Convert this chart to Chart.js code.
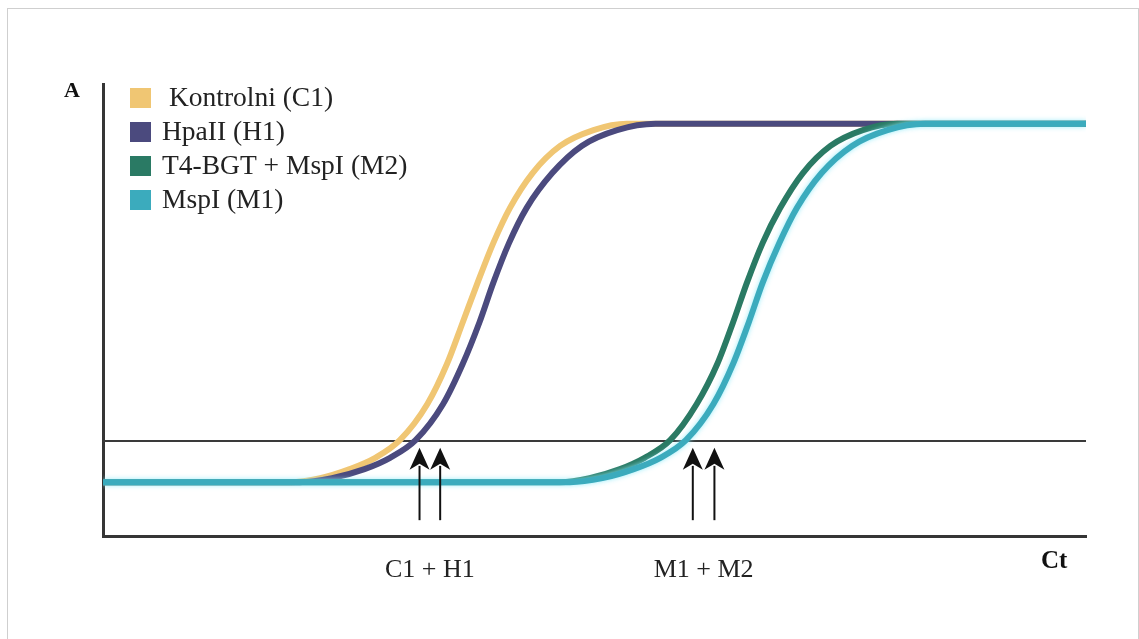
<!DOCTYPE html>
<html>
<head>
<meta charset="utf-8">
<title>qPCR krivulje</title>
<script src="https://cdn.jsdelivr.net/npm/chart.js@4"></script>
<style>
    body { margin: 0; background: #ffffff; }
    #frame { position: absolute; left: 7px; top: 8px; width: 1130px; height: 640px; border: 1px solid #cfcfcf; }
    #wrap { position: absolute; left: 0; top: 0; width: 1139px; height: 639px; }
</style>
</head>
<body>
<div id="frame"></div>
<div id="wrap"><canvas id="qpcrChart"></canvas></div>
<script>
// Ct values (x) and signal A (y), 0-100 on both axes
const ctC1 = [0, 19.0, 22.1, 25.1, 27.7, 30.2, 33.0, 35.0, 36.6, 38.1, 39.7, 41.4, 43.7, 46.5, 49.9, 53.3, 100];
const aC1 = [11.9, 11.9, 12.8, 14.8, 17.3, 21.2, 29.2, 38.1, 47.3, 56.0, 64.8, 72.6, 80.3, 86.3, 89.8, 91.2, 91.2];

const ctH1 = [0, 20.0, 23.3, 26.6, 29.2, 31.8, 34.6, 36.6, 38.3, 39.7, 41.3, 43.1, 45.7, 48.7, 52.3, 56.2, 100];
const aH1 = [11.9, 11.9, 12.8, 14.8, 17.3, 21.2, 29.2, 38.1, 47.3, 56.0, 64.8, 72.6, 80.3, 86.3, 89.8, 91.2, 91.2];

const ctM2 = [0, 46.5, 49.5, 52.6, 55.1, 57.7, 60.4, 62.5, 64.1, 65.5, 67.1, 68.9, 71.2, 74.0, 77.3, 80.8, 100];
const aM2 = [11.9, 11.9, 12.8, 14.8, 17.3, 21.2, 29.2, 38.1, 47.3, 56.0, 64.8, 72.6, 80.3, 86.3, 89.8, 91.2, 91.2];

const ctM1 = [0, 47.5, 50.8, 54.0, 56.7, 59.3, 62.1, 64.1, 65.7, 67.1, 68.8, 70.6, 73.1, 76.2, 79.8, 83.6, 100];
const aM1 = [11.9, 11.9, 12.8, 14.8, 17.3, 21.2, 29.2, 38.1, 47.3, 56.0, 64.8, 72.6, 80.3, 86.3, 89.8, 91.2, 91.2];

// threshold line
const thresholdCt = [0, 100];
const thresholdA = [21.0, 21.0];

// arrows marking the Ct of each sample, grouped in pairs
const arrowCt = [32.2, 34.3, 60.0, 62.2];
const arrowTopA = 19.5;
const arrowBottomA = 3.5;
const pairLabels = ['C1 + H1', 'M1 + M2'];

const seriesLabels = [' Kontrolni (C1)', 'HpaII (H1)', 'T4-BGT + MspI (M2)', 'MspI (M1)'];
const seriesColors = ['#f0c673', '#4b4a7e', '#2a7a64', '#3babbd'];

const serifFont = '"Liberation Serif", "Times New Roman", serif';

function toPoints(xs, ys) {
    return xs.map((x, i) => ({ x: x, y: ys[i] }));
}

function drawArrow(ctx, x, yTop, yBottom) {
    const headH = 22;
    const headW = 20;
    ctx.beginPath();
    ctx.moveTo(x, yBottom);
    ctx.lineTo(x, yTop + headH - 4);
    ctx.stroke();
    ctx.beginPath();
    ctx.moveTo(x, yTop);
    ctx.lineTo(x - headW / 2, yTop + headH);
    ctx.lineTo(x, yTop + headH - 6);
    ctx.lineTo(x + headW / 2, yTop + headH);
    ctx.closePath();
    ctx.fill();
}

const qpcrPlugin = {
    id: 'qpcrAnnotations',
    beforeDatasetDraw(chart, args) {
        if (args.index === 3) { // soft glow on the MspI curve
            chart.ctx.save();
            chart.ctx.shadowColor = 'rgba(140, 235, 250, 0.9)';
            chart.ctx.shadowBlur = 5;
        }
    },
    afterDatasetDraw(chart, args) {
        if (args.index === 3) {
            chart.ctx.restore();
        }
    },
    afterDraw(chart) {
        const ctx = chart.ctx;
        const area = chart.chartArea;
        const xScale = chart.scales.x;
        const yScale = chart.scales.y;

        ctx.save();

        // arrows
        ctx.strokeStyle = '#111111';
        ctx.fillStyle = '#111111';
        ctx.lineWidth = 2;
        arrowCt.forEach(ct => {
            drawArrow(ctx, xScale.getPixelForValue(ct), yScale.getPixelForValue(arrowTopA), yScale.getPixelForValue(arrowBottomA));
        });

        // pair labels under the x axis
        ctx.font = '26px ' + serifFont;
        ctx.fillStyle = '#222222';
        ctx.textAlign = 'center';
        ctx.textBaseline = 'alphabetic';
        pairLabels.forEach((label, i) => {
            const mid = (arrowCt[i * 2] + arrowCt[i * 2 + 1]) / 2;
            ctx.fillText(label, xScale.getPixelForValue(mid), area.bottom + 41);
        });

        // axis titles
        ctx.textAlign = 'left';
        ctx.fillStyle = '#111111';
        ctx.font = 'bold 22px ' + serifFont;
        ctx.fillText('A', area.left - 39, area.top + 13);
        ctx.font = 'bold 25px ' + serifFont;
        ctx.fillText('Ct', area.right - 45, area.bottom + 32);

        // legend
        ctx.font = '27.5px ' + serifFont;
        ctx.textBaseline = 'middle';
        seriesLabels.forEach((label, i) => {
            const cy = area.top + 14 + i * 34;
            ctx.fillStyle = seriesColors[i];
            ctx.fillRect(area.left + 27, cy - 10, 21, 20);
            ctx.fillStyle = '#222222';
            ctx.fillText(label, area.left + 59, cy + 1);
        });

        ctx.restore();
    }
};

function makeCurve(i, xs, ys, order) {
    return {
        label: seriesLabels[i],
        data: toPoints(xs, ys),
        borderColor: seriesColors[i],
        borderWidth: 6,
        pointRadius: 0,
        cubicInterpolationMode: 'monotone',
        borderCapStyle: 'butt',
        order: order
    };
}

document.addEventListener('DOMContentLoaded', function () {
    const ctx = document.getElementById('qpcrChart').getContext('2d');
    new Chart(ctx, {
        type: 'line',
        data: {
            datasets: [
                makeCurve(0, ctC1, aC1, 4),
                makeCurve(1, ctH1, aH1, 3),
                makeCurve(2, ctM2, aM2, 2),
                makeCurve(3, ctM1, aM1, 1),
                {
                    label: 'threshold',
                    data: toPoints(thresholdCt, thresholdA),
                    borderColor: '#3a3a3a',
                    borderWidth: 2,
                    pointRadius: 0,
                    order: 10
                }
            ]
        },
        options: {
            responsive: true,
            maintainAspectRatio: false,
            animation: false,
            layout: {
                padding: { left: 103, top: 84, right: 53, bottom: 103 }
            },
            scales: {
                x: {
                    type: 'linear',
                    min: 0,
                    max: 100,
                    grid: { display: false, drawTicks: false },
                    ticks: { display: false },
                    border: { display: true, color: '#353535', width: 3 }
                },
                y: {
                    type: 'linear',
                    min: 0,
                    max: 100,
                    grid: { display: false, drawTicks: false },
                    ticks: { display: false },
                    border: { display: true, color: '#353535', width: 3 }
                }
            },
            plugins: {
                legend: { display: false },
                tooltip: { enabled: false }
            }
        },
        plugins: [qpcrPlugin]
    });
});
</script>
</body>
</html>
